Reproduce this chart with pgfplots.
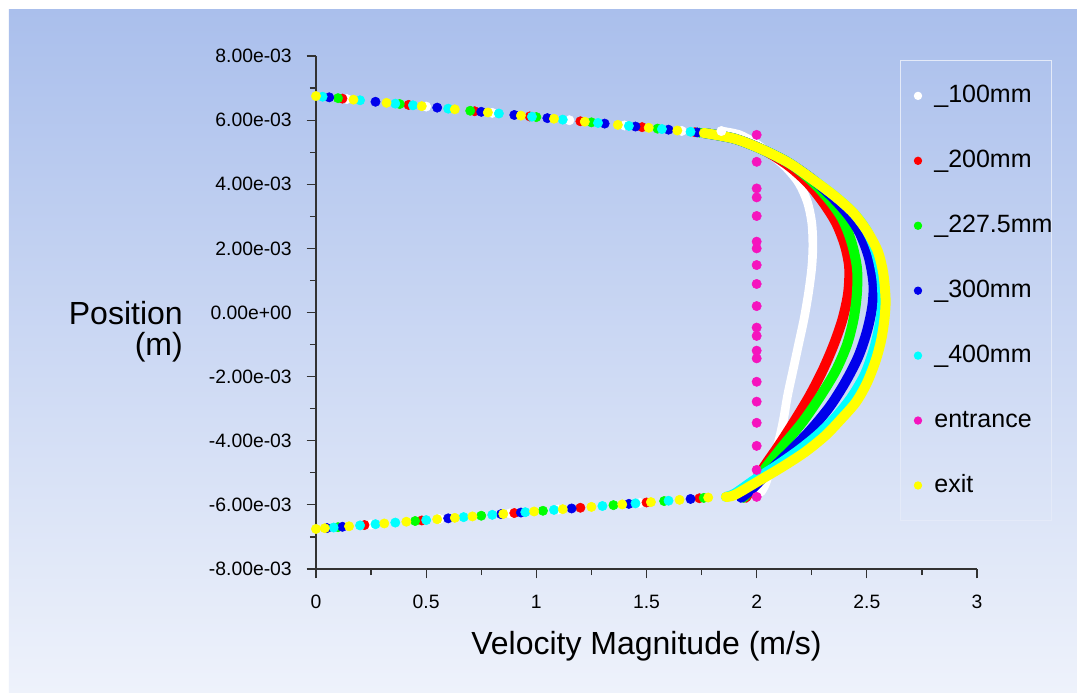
\documentclass[border=0pt]{standalone}
\usepackage{fontspec}
\setmainfont{Liberation Sans}
\usepackage{pgfplots}
\pgfplotsset{compat=1.18}
\definecolor{bgtop}{RGB}{170,191,236}
\definecolor{bgbot}{RGB}{238,242,251}
\definecolor{cwhite}{RGB}{255,255,255}
\definecolor{cred}{RGB}{255,0,0}
\definecolor{cgreen}{RGB}{0,255,0}
\definecolor{cblue}{RGB}{0,0,235}
\definecolor{ccyan}{RGB}{0,255,255}
\definecolor{cmag}{RGB}{245,20,190}
\definecolor{cyel}{RGB}{255,255,0}
\definecolor{axcol}{RGB}{50,50,50}
\definecolor{legbord}{RGB}{228,234,248}
\pgfplotsset{
  dots/.style={only marks, mark=*, mark size=3.5pt, color=#1, fill=#1,
    legend image code/.code={\fill[#1] (0pt,0pt) circle (2.7pt);}},
  band/.style={forget plot, smooth, no marks, line width=7.5pt, line cap=round, line join=round, color=#1},
}
\begin{document}
\begin{tikzpicture}
\path[use as bounding box] (-237pt,-92.25pt) rectangle (570.75pt,426.75pt);
\fill[white] (-237pt,-92.25pt) rectangle (570.75pt,426.75pt);
\shade[top color=bgtop, bottom color=bgbot] (-230.25pt,-92.25pt) rectangle (570.75pt,419.25pt);
\begin{axis}[
  at={(0pt,0pt)}, anchor=south west,
  scale only axis, width=495.75pt, height=384.75pt,
  xmin=0, xmax=3, ymin=-8, ymax=8,
  axis lines=left, axis line style={-, axcol, line width=0.9pt},
  tick style={axcol, line width=0.9pt},
  tick align=outside,
  major tick length=7pt, minor tick length=4.5pt,
  xtick={0,0.5,1,1.5,2,2.5,3},
  xticklabels={0,0.5,1,1.5,2,2.5,3},
  minor xtick={0.25,0.75,1.25,1.75,2.25,2.75},
  ytick={-8,-6,-4,-2,0,2,4,6,8},
  yticklabels={-8.00e-03,-6.00e-03,-4.00e-03,-2.00e-03,0.00e+00,2.00e-03,4.00e-03,6.00e-03,8.00e-03},
  minor ytick={-7,-5,-3,-1,1,3,5,7},
  ticklabel style={font=\fontsize{14.5}{16}\selectfont, inner sep=0pt},
  xticklabel style={yshift=-12.5pt},
  yticklabel style={xshift=-11pt},
  xlabel={Velocity Magnitude (m/s)},
  xlabel style={font=\fontsize{24}{28}\selectfont, at={(axis description cs:0.5,0)}, anchor=north, yshift=-46.5pt, inner sep=0pt},
  ylabel={Position\\(m)},
  ylabel style={font=\fontsize{24}{23}\selectfont, rotate=-90, align=right, at={(axis description cs:0,0.5)}, anchor=east, xshift=-99.75pt, yshift=-14.6pt, inner sep=0pt},
  clip=false,
  legend style={at={(0.8835,0.9922)}, anchor=north west, draw=legbord, line width=0.8pt, fill=none,
    font=\fontsize{18.75}{20}\selectfont, inner xsep=10pt, inner ysep=18pt, row sep=31.7pt, column sep=9.2pt,
    nodes={inner sep=0pt, text height=13.5pt, text depth=3.5pt}},
  legend cell align=left,
]
% ---- _100mm (white)
\addplot[band=cwhite, line width=6.5pt] coordinates {
(1.84,5.66) (1.92,5.55) (1.99,5.30) (2.06,4.95) (2.13,4.55) (2.19,4.05) (2.23,3.45) (2.25,2.80)
(2.255,2.10) (2.25,1.40) (2.235,0.60) (2.215,-0.20) (2.19,-1.00) (2.165,-1.80) (2.14,-2.60)
(2.12,-3.40) (2.095,-4.15) (2.065,-4.80) (2.04,-5.35) (2.02,-5.60)};
\addplot[dots=cwhite] coordinates {
(0.14,6.658) (0.5,6.423) (0.8,6.226) (1.15,5.997) (1.4,5.833) (1.66,5.663) (1.84,5.66)
(0.25,-6.613) (0.56,-6.442) (0.88,-6.266) (1.1,-6.145) (1.47,-5.942)};
\addlegendentry{\makebox[78pt][l]{\_100mm}}
% ---- _200mm (red)
\addplot[band=cred] coordinates {
(1.76,5.60) (1.90,5.42) (2.03,5.07) (2.14,4.60) (2.23,4.05) (2.30,3.45) (2.36,2.80) (2.40,2.10)
(2.42,1.40) (2.415,0.60) (2.39,-0.20) (2.35,-1.00) (2.30,-1.80) (2.24,-2.60) (2.17,-3.40)
(2.10,-4.15) (2.03,-4.85) (1.98,-5.45) (1.95,-5.78)};
\addplot[dots=cred] coordinates {
(0.12,6.671) (0.42,6.475) (0.72,6.278) (0.97,6.115) (1.2,5.964) (1.48,5.781) (1.72,5.623)
(0.22,-6.629) (0.48,-6.486) (0.9,-6.255) (1.2,-6.090) (1.5,-5.925) (1.74,-5.793)};
\addlegendentry{\makebox[78pt][l]{\_200mm}}
% ---- _227.5mm (green)
\addplot[band=cgreen] coordinates {
(1.76,5.60) (1.90,5.42) (2.03,5.07) (2.15,4.65) (2.25,4.10) (2.33,3.50) (2.39,2.90) (2.43,2.20)
(2.455,1.40) (2.455,0.60) (2.44,-0.20) (2.41,-1.00) (2.36,-1.80) (2.29,-2.60) (2.21,-3.40)
(2.12,-4.15) (2.04,-4.85) (1.98,-5.45) (1.94,-5.78)};
\addplot[dots=cgreen] coordinates {
(0.1,6.685) (0.38,6.501) (0.7,6.292) (1.0,6.095) (1.25,5.931) (1.55,5.735) (1.74,5.610)
(0.1,-6.695) (0.45,-6.503) (0.75,-6.338) (1.03,-6.184) (1.35,-6.008) (1.58,-5.881) (1.76,-5.782)};
\addlegendentry{\makebox[78pt][l]{\_227.5mm}}
% ---- _300mm (blue)
\addplot[band=cblue] coordinates {
(1.76,5.60) (1.90,5.42) (2.03,5.07) (2.15,4.65) (2.26,4.12) (2.35,3.55) (2.42,3.00) (2.47,2.45)
(2.51,1.70) (2.53,0.90) (2.525,0.20) (2.50,-0.60) (2.46,-1.40) (2.40,-2.20) (2.33,-2.95)
(2.24,-3.70) (2.14,-4.40) (2.05,-5.00) (1.98,-5.50) (1.93,-5.78)};
\addplot[dots=cblue] coordinates {
(0.06,6.711) (0.27,6.573) (0.55,6.390) (0.75,6.259) (0.9,6.161) (1.05,6.062) (1.31,5.892) (1.45,5.800) (1.6,5.702) (1.73,5.617)
(0.05,-6.723) (0.12,-6.684) (0.6,-6.420) (0.84,-6.288) (0.93,-6.239) (1.16,-6.112) (1.42,-5.969) (1.7,-5.815)};
\addlegendentry{\makebox[78pt][l]{\_300mm}}
% ---- _400mm (cyan)
\addplot[band=ccyan] coordinates {
(1.76,5.60) (1.90,5.42) (2.03,5.07) (2.15,4.65) (2.26,4.12) (2.36,3.60) (2.44,3.10) (2.50,2.55)
(2.54,1.90) (2.565,1.10) (2.57,0.30) (2.555,-0.50) (2.53,-1.20) (2.49,-1.95) (2.43,-2.65)
(2.36,-3.25) (2.28,-3.80) (2.19,-4.30) (2.09,-4.78) (1.99,-5.22) (1.90,-5.65) (1.86,-5.75)};
\addplot[dots=ccyan] coordinates {
(0.03,6.730) (0.2,6.619) (0.36,6.514) (0.44,6.462) (0.6,6.357) (0.83,6.206) (0.98,6.108) (1.12,6.016) (1.28,5.912) (1.42,5.820) (1.57,5.722) (1.70,5.636)
(0.08,-6.706) (0.2,-6.640) (0.27,-6.602) (0.36,-6.552) (0.5,-6.475) (0.67,-6.382) (0.8,-6.310) (0.95,-6.228) (1.08,-6.156) (1.3,-6.035) (1.45,-5.953) (1.6,-5.870)};
\addlegendentry{\makebox[78pt][l]{\_400mm}}
% ---- entrance (magenta)
\addplot[dots=cmag] coordinates {
(2,5.54) (2,4.70) (2,3.87) (2,3.59) (2,3.01) (2,2.21) (2,2.00) (2,1.48) (2,0.89) (2,0.20)
(2,-0.47) (2,-0.73) (2,-1.19) (2,-1.43) (2,-2.16) (2,-2.78) (2,-3.44) (2,-4.16) (2,-4.91) (2,-5.75)};
\addlegendentry{\makebox[78pt][l]{entrance}}
% ---- exit (yellow)
\addplot[band=cyel] coordinates {
(1.76,5.60) (1.90,5.42) (2.03,5.07) (2.15,4.65) (2.26,4.12) (2.36,3.60) (2.44,3.10) (2.50,2.55)
(2.55,1.90) (2.575,1.20) (2.585,0.40) (2.58,-0.20) (2.565,-0.86) (2.54,-1.50) (2.50,-2.20)
(2.45,-2.80) (2.38,-3.35) (2.31,-3.85) (2.22,-4.35) (2.12,-4.80) (2.01,-5.25) (1.90,-5.69) (1.86,-5.75)};
\addplot[dots=cyel] coordinates {
(0,6.750) (0.17,6.639) (0.32,6.540) (0.48,6.436) (0.63,6.337) (0.78,6.239) (0.93,6.141) (1.08,6.043) (1.22,5.951) (1.37,5.853) (1.51,5.761) (1.64,5.676) (1.76,5.597)
(0,-6.750) (0.04,-6.728) (0.15,-6.668) (0.31,-6.580) (0.41,-6.525) (0.55,-6.448) (0.63,-6.404) (0.71,-6.360) (0.85,-6.283) (0.99,-6.206) (1.12,-6.134) (1.25,-6.063) (1.39,-5.986) (1.52,-5.914) (1.65,-5.843) (1.78,-5.771)};
\addlegendentry{\makebox[78pt][l]{exit}}
\end{axis}
\end{tikzpicture}
\end{document}
